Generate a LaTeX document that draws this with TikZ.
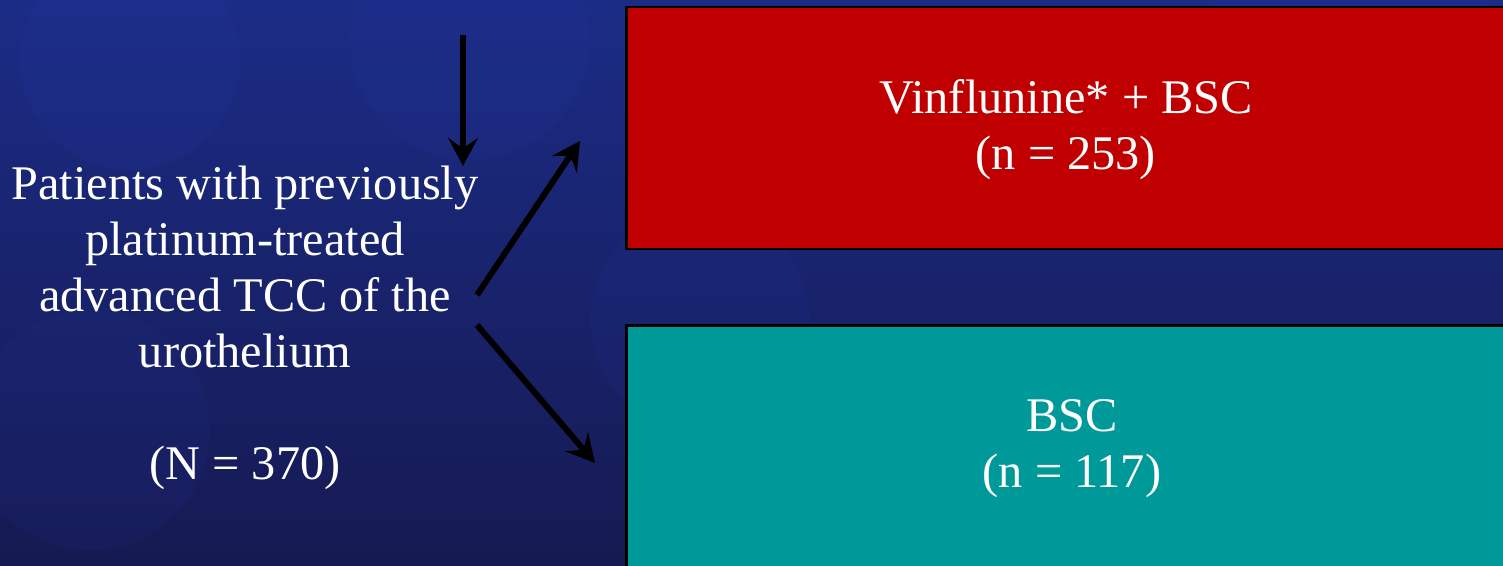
\documentclass[tikz,border=0pt]{standalone}
\usepackage{fontspec}
\setmainfont{Liberation Serif}
\usetikzlibrary{arrows.meta}
\definecolor{bgtop}{HTML}{1B2C86}
\definecolor{bgbot}{HTML}{161A52}
\definecolor{bgglow}{HTML}{2438A0}
\definecolor{armred}{HTML}{C00000}
\definecolor{armteal}{HTML}{009999}
\tikzset{
  armbox/.style={draw=black, line width=1.7pt, anchor=north west, inner sep=0pt},
  bigtext/.style={text=white, font=\fontsize{27.5}{31.8}\selectfont, align=center},
  arm/.style={line width=3.4pt, -{Stealth[length=16pt, width=17pt, inset=6pt]}}
}
\begin{document}
\begin{tikzpicture}[x=0.02cm, y=-0.02cm]
  \useasboundingbox (0,0) rectangle (1503,565);
  % background
  \shade[top color=bgtop, bottom color=bgbot] (0,0) rectangle (1503,565);
  \fill[bgglow, opacity=0.18] (130,60) circle (110);
  \fill[bgglow, opacity=0.15] (470,40) circle (120);
  \fill[bgglow, opacity=0.10] (90,430) circle (120);
  \fill[bgglow, opacity=0.12] (700,320) circle (110);
  \fill[bgglow, opacity=0.10] (1350,0) circle (140);
  % boxes
  \path[armbox, fill=armred] (626,7) rectangle (1510,249);
  \path[armbox, fill=armteal] (626,325) rectangle (1510,575);
  \node[bigtext] (redtxt) at (1066,130) {Vinflunine* + BSC\\(n = 253)};
  \node[bigtext] (tealtxt) at (1072,449) {BSC\\(n = 117)};
  % left text
  \node[bigtext] (pat) at (245,328) {Patients with previously\\platinum-treated\\advanced TCC of the\\urothelium\\[31.8pt](N = 370)};
  % arrows
  \coordinate (vtop) at (463,35);
  \coordinate (vbot) at (463,166);
  \coordinate (upS) at (477,295);
  \coordinate (upE) at (580,141);
  \coordinate (dnS) at (477,325);
  \coordinate (dnE) at (595,463);
  \draw[arm] (vtop) -- (vbot);
  \draw[arm] (upS) -- (upE);
  \draw[arm] (dnS) -- (dnE);
\end{tikzpicture}
\end{document}
